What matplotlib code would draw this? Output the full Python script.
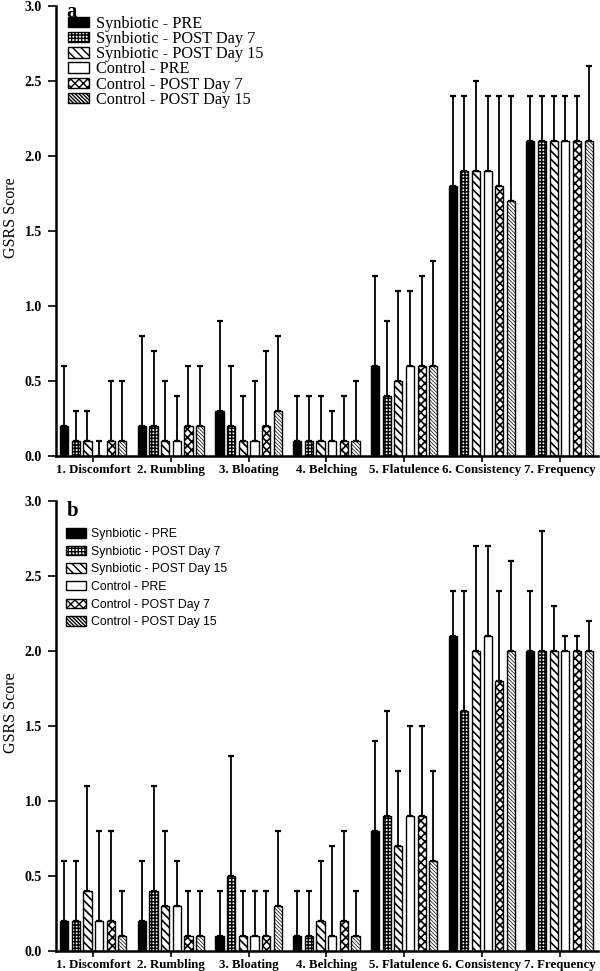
import numpy as np
import matplotlib
matplotlib.use("Agg")
import matplotlib.pyplot as plt

categories = ["1. Discomfort", "2. Rumbling", "3. Bloating", "4. Belching",
              "5. Flatulence", "6. Consistency", "7. Frequency"]
series = ["Synbiotic - PRE", "Synbiotic - POST Day 7", "Synbiotic - POST Day 15",
          "Control - PRE", "Control - POST Day 7", "Control - POST Day 15"]

# panel a: mean and upper SD per series (rows) and symptom (columns)
mean_a = [
    [0.2, 0.2, 0.3, 0.1, 0.6, 1.8, 2.1],
    [0.1, 0.2, 0.2, 0.1, 0.4, 1.9, 2.1],
    [0.1, 0.1, 0.1, 0.1, 0.5, 1.9, 2.1],
    [0.0, 0.1, 0.1, 0.1, 0.6, 1.9, 2.1],
    [0.1, 0.2, 0.2, 0.1, 0.6, 1.8, 2.1],
    [0.1, 0.2, 0.3, 0.1, 0.6, 1.7, 2.1],
]
sd_a = [
    [0.4, 0.6, 0.6, 0.3, 0.6, 0.6, 0.3],
    [0.2, 0.5, 0.4, 0.3, 0.5, 0.5, 0.3],
    [0.2, 0.4, 0.3, 0.3, 0.6, 0.6, 0.3],
    [0.1, 0.3, 0.4, 0.2, 0.5, 0.5, 0.3],
    [0.4, 0.4, 0.5, 0.3, 0.6, 0.6, 0.3],
    [0.4, 0.4, 0.5, 0.4, 0.7, 0.7, 0.5],
]

# panel b
mean_b = [
    [0.2, 0.2, 0.1, 0.1, 0.8, 2.1, 2.0],
    [0.2, 0.4, 0.5, 0.1, 0.9, 1.6, 2.0],
    [0.4, 0.3, 0.1, 0.2, 0.7, 2.0, 2.0],
    [0.2, 0.3, 0.1, 0.1, 0.9, 2.1, 2.0],
    [0.2, 0.1, 0.1, 0.2, 0.9, 1.8, 2.0],
    [0.1, 0.1, 0.3, 0.1, 0.6, 2.0, 2.0],
]
sd_b = [
    [0.4, 0.4, 0.3, 0.3, 0.6, 0.3, 0.4],
    [0.4, 0.7, 0.8, 0.3, 0.7, 0.8, 0.8],
    [0.7, 0.5, 0.3, 0.4, 0.5, 0.7, 0.3],
    [0.6, 0.3, 0.3, 0.6, 0.6, 0.6, 0.1],
    [0.6, 0.3, 0.3, 0.6, 0.6, 0.6, 0.1],
    [0.3, 0.3, 0.5, 0.3, 0.6, 0.6, 0.2],
]

# (facecolor, hatch, hatch linewidth)
styles = [
    ("black", "", 1.0),
    ("white", "+++++", 1.1),
    ("white", "\\\\\\\\", 1.2),
    ("white", "", 1.0),
    ("white", "xxxx", 1.2),
    ("white", "\\" * 9, 0.5),
]

SERIF = "Liberation Serif"
SANS = "Liberation Sans"


def draw_panel(ax, means, sds, tag, tag_y, legend_font, legend_size,
               legend_y, legend_spacing, handle_len, handle_h):
    x = np.arange(len(categories))
    slot = 0.15
    width = 0.105
    for k, (name, m, s) in enumerate(zip(series, means, sds)):
        face, hatch, hlw = styles[k]
        pos = x + (k - 2.5) * slot
        m = np.array(m)
        s = np.array(s)
        ax.errorbar(pos, m, yerr=[np.zeros_like(s), s], fmt="none",
                    ecolor="black", elinewidth=1.3, capsize=2.5, capthick=1.6,
                    zorder=1)
        with plt.rc_context({"hatch.linewidth": hlw}):
            bars = ax.bar(pos, m, width, color=face, edgecolor="black",
                          linewidth=1.0, hatch=hatch, label=name, zorder=2)
        for b in bars:
            if hasattr(b, "set_hatch_linewidth"):
                b.set_hatch_linewidth(hlw)

    ax.set_xlim(-0.48, 6.5)
    ax.set_ylim(0, 3.0)
    ticks = np.arange(0, 3.01, 0.5)
    ax.set_yticks(ticks)
    ax.set_yticklabels([f"{v:.1f}" for v in ticks],
                       fontfamily=SERIF, fontweight="bold", fontsize=10)
    ax.set_xticks(x)
    ax.set_xticklabels(categories, fontfamily=SERIF, fontweight="bold",
                       fontsize=9.3)
    ax.tick_params(axis="y", direction="out", length=6, width=1.2, pad=4)
    ax.tick_params(axis="x", direction="out", length=4, width=1.2, pad=2)
    for side in ("top", "right"):
        ax.spines[side].set_visible(False)
    for side in ("left", "bottom"):
        ax.spines[side].set_linewidth(1.8)
    ax.set_ylabel("GSRS Score", fontfamily=SERIF, fontsize=11.5)
    ax.yaxis.set_label_coords(-0.068, 0.53)

    ax.text(0.02, tag_y, tag, transform=ax.transAxes, fontfamily=SERIF,
            fontweight="bold", fontsize=15, va="top", ha="left")
    leg = ax.legend(loc="upper left", bbox_to_anchor=(0.005, legend_y),
                    frameon=False, prop={"family": legend_font, "size": legend_size},
                    handlelength=handle_len, handleheight=handle_h,
                    handletextpad=0.45, labelspacing=legend_spacing,
                    borderaxespad=0.2)
    return leg


fig = plt.figure(figsize=(6, 9.71), dpi=100)
ax_a = fig.add_axes([0.0933, 0.5304, 0.904, 0.4634])
ax_b = fig.add_axes([0.0933, 0.0206, 0.904, 0.4634])

draw_panel(ax_a, mean_a, sd_a, "a", 1.01, SERIF, 11.7, 1.0, -0.05, 1.25, 0.6)
draw_panel(ax_b, mean_b, sd_b, "b", 1.0, SANS, 8.8, 0.956, 0.46, 1.6, 0.8)

fig.savefig("out.png", dpi=100)
